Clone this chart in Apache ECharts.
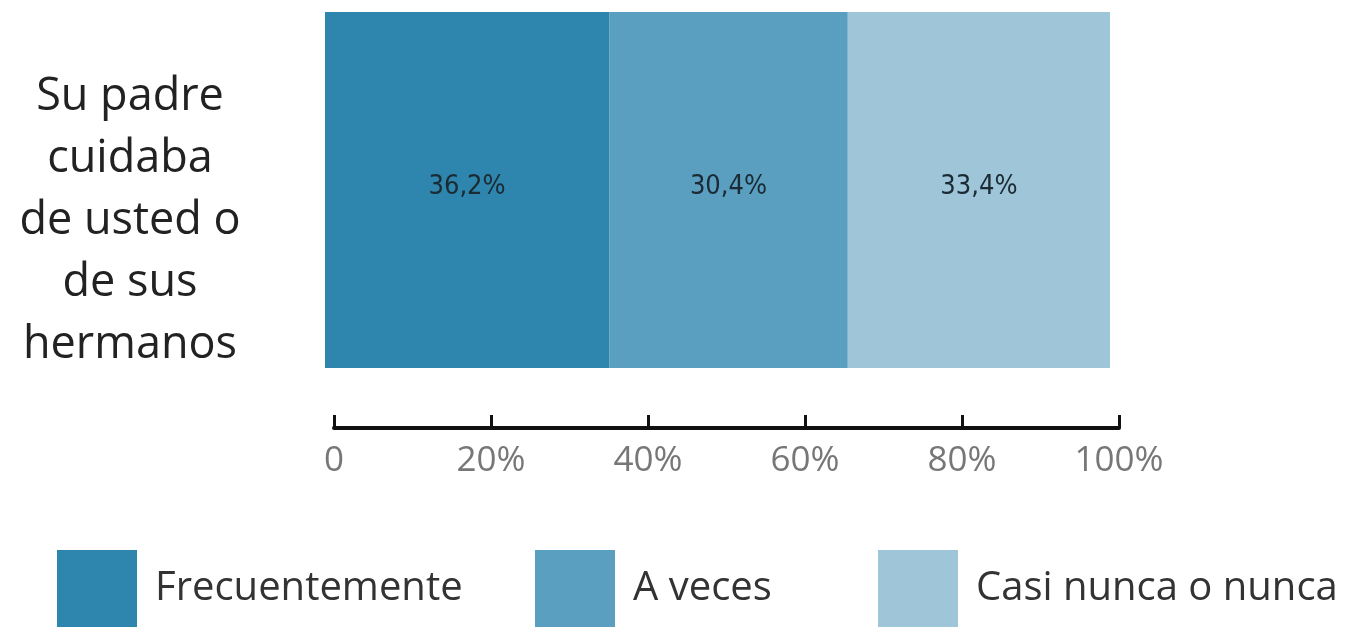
<!DOCTYPE html>
<html><head><meta charset="utf-8">
<script src="https://cdn.jsdelivr.net/npm/echarts@6/dist/echarts.min.js"></script>
<style>html,body{margin:0;padding:0;background:#fff}#c{width:1348px;height:627px}</style>
</head><body><div id="c"></div>
<script>
const categories = ["Su padre\ncuidaba\nde usted o\nde sus\nhermanos"];
const seriesNames = ["Frecuentemente", "A veces", "Casi nunca o nunca"];
const frecuentemente = [36.2];
const aVeces = [30.4];
const casiNunca = [33.4];
const colors = ["#2e85ad", "#5a9fc0", "#9ec5d8"];
const tickValues = [0, 20, 40, 60, 80, 100];

const seriesValues = [frecuentemente, aVeces, casiNunca];
const chart = echarts.init(document.getElementById('c'), null, {renderer: 'canvas'});
const fmt = v => v.toFixed(1).replace('.', ',') + '%';
const option = {
  animation: false,
  grid: [
    {left: 325, width: 785, top: 12, height: 356},
    {left: 334, width: 785, top: 400, height: 28}
  ],
  xAxis: [
    {gridIndex: 0, type: 'value', min: 0, max: 100, show: false},
    {gridIndex: 1, type: 'value', min: 0, max: 100, interval: 20, position: 'bottom',
     axisLine: {show: true, lineStyle: {color: '#111', width: 4}},
     axisTick: {show: true, inside: true, length: 13, lineStyle: {color: '#111', width: 3}},
     splitLine: {show: false},
     axisLabel: {margin: 16, fontSize: 35, color: '#777', fontFamily: 'Open Sans',
       formatter: v => tickValues.includes(v) ? (v === 0 ? '0' : v + '%') : ''}}
  ],
  yAxis: [
    {gridIndex: 0, type: 'category', data: categories,
     axisLine: {show: false}, axisTick: {show: false},
     axisLabel: {margin: 195, align: 'center', verticalAlign: 'middle', fontSize: 45, lineHeight: 62,
       color: '#222', fontFamily: 'Open Sans', formatter: v => '\n' + v}},
    {gridIndex: 1, type: 'value', show: false}
  ],
  legend: seriesNames.map((n, i) => ({
    data: [n], left: [57, 535, 878][i], top: 550, padding: 0,
    itemWidth: 80, itemHeight: 77, icon: 'rect',
    textStyle: {fontSize: 40, color: '#333', fontFamily: 'Open Sans', padding: [0, 0, 0, 13]}
  })),
  series: seriesNames.map((n, i) => ({
    name: n, type: 'bar', stack: 'total', xAxisIndex: 0, yAxisIndex: 0,
    data: seriesValues[i], barWidth: '100%',
    itemStyle: {color: colors[i]},
    label: {show: true, position: 'inside', formatter: p => fmt(p.value), offset: [0, -3],
      fontSize: 27, color: '#1b2a33', fontFamily: 'Liberation Sans Narrow, DejaVu Sans Condensed, sans-serif'}
  }))
};
chart.setOption(option);
</script></body></html>
